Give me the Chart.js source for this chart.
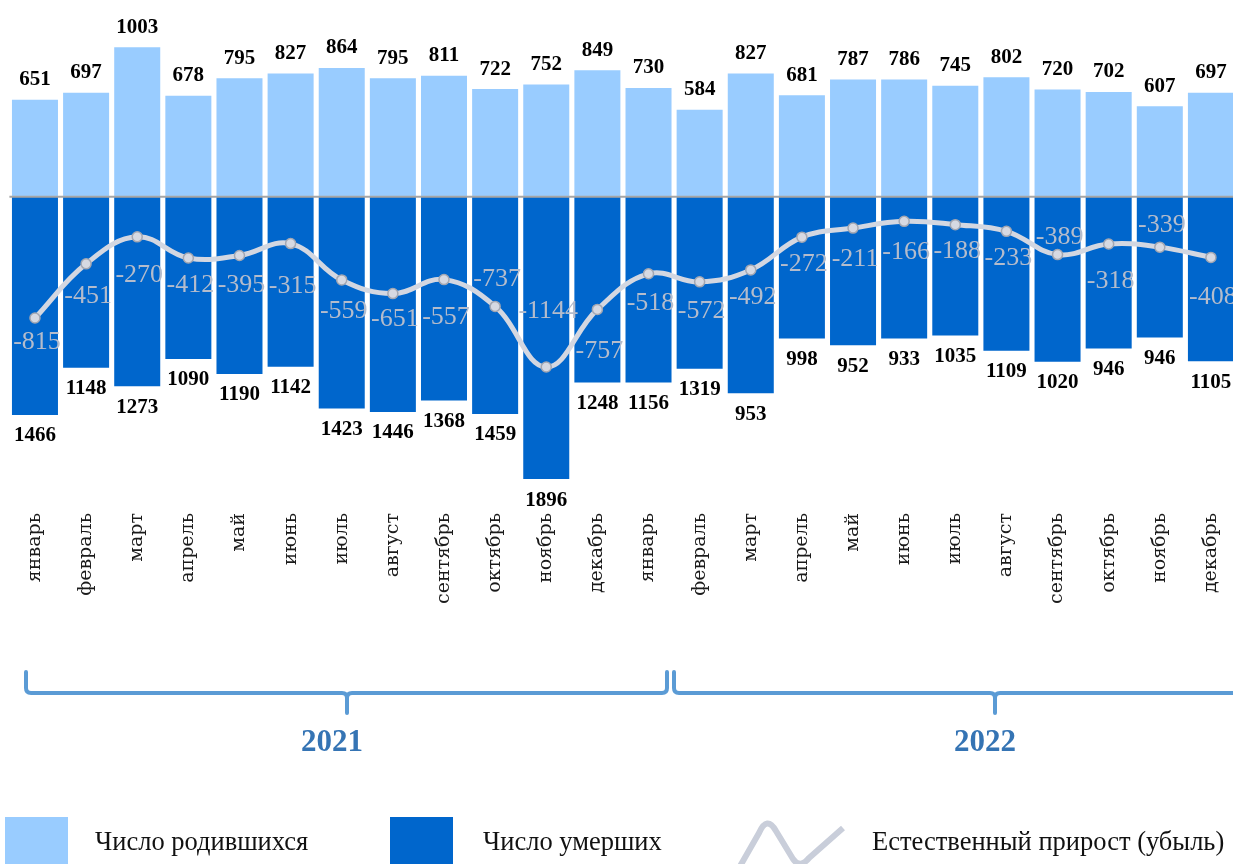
<!DOCTYPE html>
<html lang="ru">
<head>
<meta charset="utf-8">
<title>Естественное движение населения</title>
<script src="https://cdn.jsdelivr.net/npm/chart.js@4.4.1/dist/chart.umd.min.js"></script>
<style>
    html, body { margin: 0; padding: 0; background: #fff; overflow: hidden; }
    #chart { display: block; }
</style>
</head>
<body>
<canvas id="chart" width="1240" height="864"></canvas>
<script>
const months = ['январь', 'февраль', 'март', 'апрель', 'май', 'июнь', 'июль', 'август', 'сентябрь', 'октябрь', 'ноябрь', 'декабрь']
const categories = months.concat(months)
const years = ['2021', '2022']

const births = [651, 697, 1003, 678, 795, 827, 864, 795, 811, 722, 752, 849, 730, 584, 827, 681, 787, 786, 745, 802, 720, 702, 607, 697]

// bar heights as drawn in the picture
const deaths = [1466, 1148, 1273, 1090, 1190, 1142, 1423, 1446, 1368, 1459, 1896, 1248, 1248, 1156, 1319, 953, 998, 952, 933, 1035, 1109, 1020, 946, 1105]
// numbers printed under the bars
const deathLabels = [1466, 1148, 1273, 1090, 1190, 1142, 1423, 1446, 1368, 1459, 1896, 1248, 1156, 1319, 953, 998, 952, 933, 1035, 1109, 1020, 946, 946, 1105]

const growth = [-815, -451, -270, -412, -395, -315, -559, -651, -557, -737, -1144, -757, -518, -572, -492, -272, -211, -166, -188, -233, -389, -318, -339, -408]

// vertical shift of each growth label from its point, px
const growthLabelShift = [24, 32, 38, 27, 30, 43, 31, 26, 38, -27, -56, 42, 29, 29, 27, 27, 31, 31, 27, 27, -17, 37, -22, 40]

const SERIF = '"Liberation Serif", "Times New Roman", serif'

const labelPlugin = {
    id: 'valueLabels',
    afterDatasetsDraw(chart) {
        const ctx = chart.ctx
        const area = chart.chartArea
        const y0 = chart.scales.y.getPixelForValue(0)

        // zero line
        ctx.save()
        ctx.strokeStyle = '#a6a6a6'
        ctx.lineWidth = 2
        ctx.beginPath()
        ctx.moveTo(area.left, y0)
        ctx.lineTo(area.right, y0)
        ctx.stroke()

        ctx.textAlign = 'center'
        ctx.textBaseline = 'middle'

        ctx.font = 'bold 21px ' + SERIF
        ctx.fillStyle = '#000'
        chart.getDatasetMeta(1).data.forEach((bar, i) => {
            ctx.fillText(String(births[i]), bar.x, bar.y - 20)
        })
        chart.getDatasetMeta(2).data.forEach((bar, i) => {
            ctx.fillText(String(deathLabels[i]), bar.x, bar.y + 21)
        })

        ctx.font = '26px ' + SERIF
        ctx.fillStyle = '#b4bccc'
        chart.getDatasetMeta(0).data.forEach((pt, i) => {
            ctx.fillText(String(growth[i]), pt.x + 2, pt.y + growthLabelShift[i])
        })
        ctx.restore()
    },
    afterDraw(chart) {
        const ctx = chart.ctx
        ctx.save()

        // year brackets
        ctx.strokeStyle = '#5b9bd5'
        ctx.lineWidth = 4
        ctx.lineJoin = 'round'
        ctx.lineCap = 'round'
        const by = 693
        const brackets = [
            { from: 26, to: 667, mid: 347, closed: true },
            { from: 674, to: 1245, mid: 995, closed: false },
        ]
        brackets.forEach((b) => {
            ctx.beginPath()
            ctx.moveTo(b.from, 672)
            ctx.lineTo(b.from, by - 5)
            ctx.quadraticCurveTo(b.from, by, b.from + 5, by)
            ctx.lineTo(b.mid - 5, by)
            ctx.quadraticCurveTo(b.mid, by, b.mid, by + 5)
            ctx.lineTo(b.mid, 713)
            ctx.moveTo(b.mid, by + 5)
            ctx.quadraticCurveTo(b.mid, by, b.mid + 5, by)
            if (b.closed) {
                ctx.lineTo(b.to - 5, by)
                ctx.quadraticCurveTo(b.to, by, b.to, by - 5)
                ctx.lineTo(b.to, 672)
            } else {
                ctx.lineTo(b.to, by)
            }
            ctx.stroke()
        })

        ctx.fillStyle = '#3574b4'
        ctx.font = 'bold 31px ' + SERIF
        ctx.textAlign = 'center'
        ctx.textBaseline = 'middle'
        ctx.fillText(years[0], 332, 743)
        ctx.fillText(years[1], 985, 743)

        // legend
        ctx.fillStyle = '#99ccff'
        ctx.fillRect(5, 817, 63, 50)
        ctx.fillStyle = '#0066cc'
        ctx.fillRect(390, 817, 63, 50)

        ctx.strokeStyle = '#c9ceda'
        ctx.lineWidth = 6
        ctx.lineCap = 'butt'
        ctx.beginPath()
        ctx.moveTo(739, 868)
        ctx.lineTo(759, 833)
        ctx.quadraticCurveTo(767, 815, 776, 831)
        ctx.lineTo(793, 859)
        ctx.quadraticCurveTo(800, 869, 809, 858)
        ctx.lineTo(843, 828)
        ctx.stroke()

        ctx.fillStyle = '#111'
        ctx.font = '26.5px ' + SERIF
        ctx.textAlign = 'left'
        ctx.fillText('Число родившихся', 95, 843)
        ctx.fillText('Число умерших', 483, 843)
        ctx.fillText('Естественный прирост (убыль)', 872, 843)
        ctx.restore()
    },
}

const ctx = document.getElementById('chart').getContext('2d')
const chart = new Chart(ctx, {
    type: 'bar',
    data: {
        labels: categories,
        datasets: [
            {
                type: 'line',
                label: 'Естественный прирост (убыль)',
                data: growth,
                order: 0,
                borderColor: '#d3d7e1',
                borderWidth: 5,
                tension: 0.4,
                pointRadius: 5,
                pointBackgroundColor: '#d6d9e2',
                pointBorderColor: '#a3a7b2',
                pointBorderWidth: 1.5,
            },
            {
                label: 'Число родившихся',
                data: births,
                order: 1,
                backgroundColor: '#99ccff',
                barPercentage: 0.9,
                categoryPercentage: 1,
            },
            {
                label: 'Число умерших',
                data: deaths.map((v) => -v),
                order: 1,
                backgroundColor: '#0066cc',
                barPercentage: 0.9,
                categoryPercentage: 1,
            },
        ],
    },
    options: {
        responsive: false,
        animation: false,
        devicePixelRatio: 1,
        layout: { autoPadding: false, padding: { left: 9.4, right: 3.5, top: 0, bottom: 0 } },
        plugins: {
            legend: { display: false },
            tooltip: { enabled: false },
        },
        scales: {
            x: {
                stacked: true,
                grid: { display: false },
                border: { display: false },
                ticks: {
                    autoSkip: false,
                    minRotation: 90,
                    maxRotation: 90,
                    padding: 0,
                    color: '#1a1a1a',
                    font: { family: 'DejaVu Serif', size: 19 },
                },
                afterFit(scale) {
                    scale.height = 359
                },
            },
            y: {
                display: false,
                min: -2070,
                max: 1320,
            },
        },
    },
    plugins: [labelPlugin],
})
</script>
</body>
</html>
